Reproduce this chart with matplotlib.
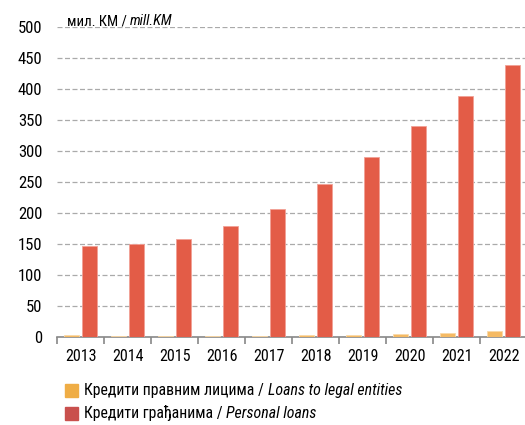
import numpy as np
import matplotlib.pyplot as plt
from matplotlib import font_manager
from matplotlib.patches import Rectangle
from matplotlib.ticker import FixedLocator

# narrow Arial-like face, whichever is installed
installed = {f.name for f in font_manager.fontManager.ttflist}
narrow = [n for n in ['Arial Narrow', 'Liberation Sans Narrow', 'Roboto Condensed',
                      'PT Sans Narrow', 'Open Sans Condensed'] if n in installed]
plt.rcParams['font.family'] = narrow[:1] + ['Liberation Sans', 'DejaVu Sans']

years = ['2013', '2014', '2015', '2016', '2017', '2018', '2019', '2020', '2021', '2022']
legal = [3, 1, 1, 1.5, 2, 2.5, 3.5, 5, 7, 9]
personal = [147, 150, 158, 179, 207, 247, 290, 340, 389, 439]

c_legal = '#F5BA64'
c_personal = '#E35C47'
c_legal_leg = '#EFAD45'
c_personal_leg = '#C9504D'

W, H = 525, 425
fig = plt.figure(figsize=(W / 100, H / 100), dpi=100)
ax = fig.add_axes([57 / W, 1 - 337 / H, 470 / W, 310 / H])

x = np.arange(len(years))
w = 0.33
ax.bar(x - 0.19, legal, width=w, color=c_legal, edgecolor='#FAD9A8', linewidth=0.6, zorder=3)
ax.bar(x + 0.19, personal, width=w, color=c_personal, edgecolor='#F2A096', linewidth=0.6, zorder=3)

ax.set_xlim(-0.5, len(years) - 0.5)
ax.set_ylim(0, 500)
ax.set_yticks(np.arange(0, 501, 50))
ax.yaxis.grid(True, linestyle=(0, (4, 2)), color='#AAAAAA', linewidth=0.9, zorder=0)
ax.tick_params(axis='y', length=0, pad=10.5, labelsize=12)

ax.set_xticks(x)
ax.set_xticklabels(years)
ax.tick_params(axis='x', which='major', length=0, pad=8.5, labelsize=11.5)
ax.xaxis.set_minor_locator(FixedLocator(np.arange(-0.5, len(years), 1.0)))
ax.tick_params(axis='x', which='minor', length=5, width=1.2, color='#888888', direction='out')

for s in ['top', 'right', 'left']:
    ax.spines[s].set_visible(False)
ax.spines['bottom'].set_color('#888888')
ax.spines['bottom'].set_linewidth(1.2)

renderer = fig.canvas.get_renderer()


def fit_size(parts, size, width):
    total = 0
    for txt, st in parts:
        t = fig.text(0, 0, txt, fontsize=size, style=st)
        total += t.get_window_extent(renderer).width
        t.remove()
    return size * width / total


def text_run(px, py, parts, size):
    # parts: list of (text, style), drawn one after another
    for txt, st in parts:
        t = fig.text(px / W, 1 - py / H, txt, fontsize=size, style=st,
                     va='center', ha='left')
        px += t.get_window_extent(renderer).width


unit = [('мил. КМ / ', 'normal'), ('mill.KM', 'italic')]
text_run(67, 21, unit, fit_size(unit, 11, 105))

legend_rows = [
    (390, c_legal_leg, [('Кредити правним лицима / ', 'normal'), ('Loans to legal entities', 'italic')]),
    (413, c_personal_leg, [('Кредити грађанима / ', 'normal'), ('Personal loans', 'italic')]),
]
leg_size = fit_size(legend_rows[0][2], 12, 319)
for py, col, parts in legend_rows:
    fig.patches.append(Rectangle((65 / W, 1 - (py + 6.5) / H), 13 / W, 13 / H,
                                 transform=fig.transFigure, color=col))
    text_run(84, py, parts, leg_size)

fig.savefig('out.png', dpi=100)
